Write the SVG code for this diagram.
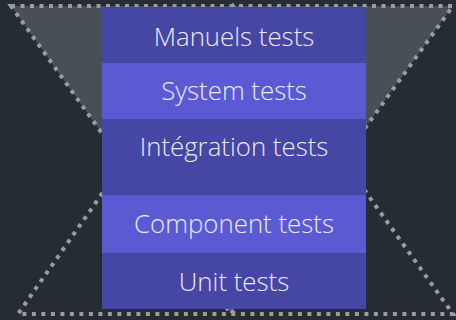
<svg xmlns="http://www.w3.org/2000/svg" width="456" height="320" viewBox="0 0 456 320">
<style>
.bg{fill:#252c33}
.tri{stroke:#9c9c9c;stroke-width:4;stroke-dasharray:4 5.5;stroke-linejoin:miter}
.dark{fill:#4646a4}
.light{fill:#5c5ad2}
.lbl{font-family:"Open Sans","Noto Sans","Liberation Sans",sans-serif;font-weight:300;font-size:25.8px;fill:#eceaf6;text-anchor:middle}
</style>
<rect class="bg" x="0" y="0" width="456" height="320"/>
<g id="shapes">
<polygon class="tri" fill="#494f57" points="11,6 453,6 231,314"/>
<polygon class="tri" fill="none" points="233,6 18,314 453,314"/>
</g>
<g id="manuels"><rect class="dark" x="102" y="7" width="264" height="56"/><text class="lbl" x="234" y="46">Manuels tests</text></g>
<g id="system"><rect class="light" x="102" y="63" width="264" height="56"/><text class="lbl" x="234" y="100">System tests</text></g>
<g id="integration"><rect class="dark" x="102" y="119" width="264" height="76"/><text class="lbl" x="234" y="156">Intégration tests</text></g>
<g id="component"><rect class="light" x="102" y="195" width="264" height="58"/><text class="lbl" x="234" y="233">Component tests</text></g>
<g id="unit"><rect class="dark" x="102" y="253" width="264" height="56"/><text class="lbl" x="234" y="291">Unit tests</text></g>
</svg>
